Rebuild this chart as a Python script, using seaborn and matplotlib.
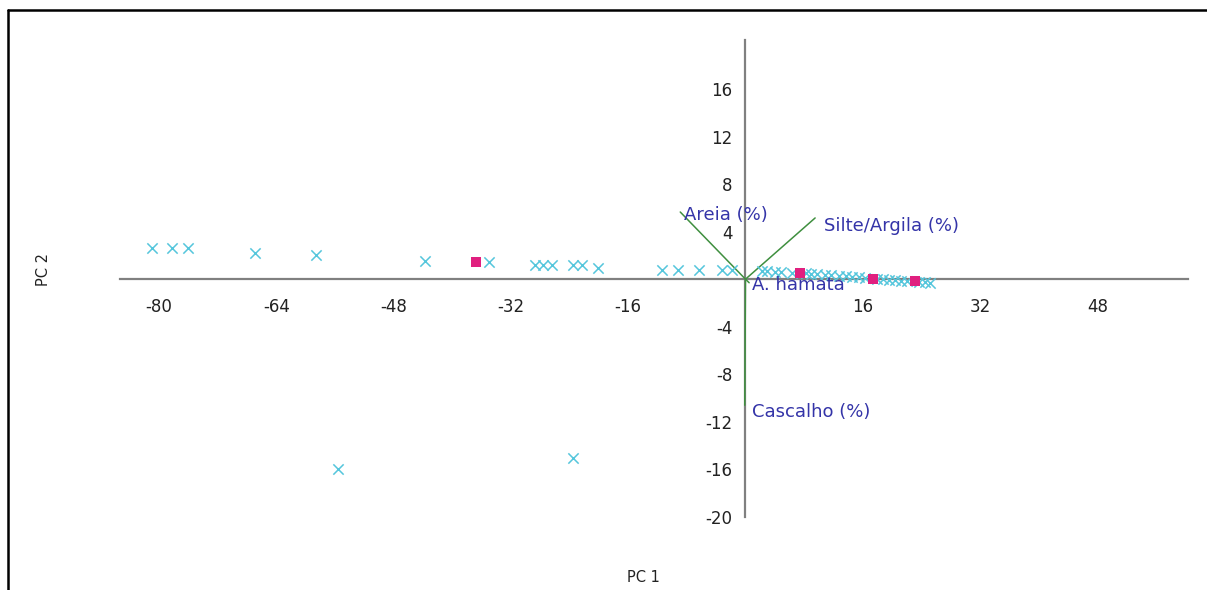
import numpy as np
import pandas as pd
import seaborn as sns
import matplotlib.pyplot as plt
from matplotlib.lines import Line2D

# PCA scores (PC 1, PC 2)
pc1_grupo1 = [-81.0, -78.3, -76.1, -66.9, -58.6, -43.7, -35.0,
              -28.7, -27.6, -26.4, -23.5, -22.3, -20.1,
              -11.4, -9.2, -6.3, -3.2, -1.8,
              -55.6, -23.5,
              2.2, 3.0, 4.0, 4.9, 6.4, 8.2, 9.0, 9.8, 10.8, 11.7, 12.8, 13.7,
              14.5, 15.5, 16.3, 17.9, 18.7, 19.6, 20.4, 21.2, 22.0, 23.7, 24.5, 25.2]
pc2_grupo1 = [2.6, 2.6, 2.6, 2.2, 2.0, 1.55, 1.45,
              1.2, 1.2, 1.2, 1.2, 1.2, 0.97,
              0.77, 0.77, 0.77, 0.77, 0.77,
              -16.0, -15.0,
              0.7, 0.7, 0.6, 0.6, 0.5, 0.5, 0.4, 0.4, 0.35, 0.35, 0.3, 0.3,
              0.2, 0.2, 0.1, 0.02, 0.02, -0.07, -0.07, -0.15, -0.15, -0.24, -0.24, -0.32]

pc1_grupo2 = [-36.8, 7.4, 17.4, 23.1]
pc2_grupo2 = [1.45, 0.52, 0.02, -0.19]

# vetores das variáveis
variaveis = ['Areia (%)', 'Silte/Argila (%)', 'Cascalho (%)', 'A. hamata']
vet_x = [-8.9, 9.5, -0.1, 0.5]
vet_y = [5.65, 5.15, -10.6, -0.3]
rot_x = [-8.4, 10.7, 0.9, 0.9]
rot_y = [5.4, 4.5, -11.2, -0.5]

xticks = [-80, -64, -48, -32, -16, 16, 32, 48]
yticks = [-20, -16, -12, -8, -4, 4, 8, 12, 16]

df1 = pd.DataFrame({'pc1': pc1_grupo1, 'pc2': pc2_grupo1})
df2 = pd.DataFrame({'pc1': pc1_grupo2, 'pc2': pc2_grupo2})

sns.set_theme(style='white')
plt.rcParams['font.family'] = ['DejaVu Sans']
plt.rcParams['axes.unicode_minus'] = False

fig = plt.figure(figsize=(12.07, 5.90), dpi=100)
ax = fig.add_axes([0, 0, 1, 1])
ax.patch.set_alpha(0)

sns.scatterplot(x='pc1', y='pc2', data=df1, marker='x', color='#55c6dc',
                s=55, linewidth=1.1, ax=ax, zorder=3)
sns.scatterplot(x='pc1', y='pc2', data=df2, marker='s', color='#e0207f',
                s=45, linewidth=0, ax=ax, zorder=4)

for vx, vy in zip(vet_x, vet_y):
    ax.plot([0, vx], [0, vy], color='#3f8f3f', lw=1.1, zorder=2)
for nome, tx, ty in zip(variaveis, rot_x, rot_y):
    ax.text(tx, ty, nome, color='#3434a8', fontsize=13, va='center', ha='left', zorder=5)

ax.set_xlim(-101.7, 62.96)
ax.set_ylim(-26.14, 23.48)

for lado in ['top', 'right']:
    ax.spines[lado].set_visible(False)
ax.spines['left'].set_position(('data', 0))
ax.spines['bottom'].set_position(('data', 0))
ax.spines['left'].set_bounds(-20, 20.1)
ax.spines['bottom'].set_bounds(-85.3, 60.4)
for lado in ['left', 'bottom']:
    ax.spines[lado].set_color('#808080')
    ax.spines[lado].set_linewidth(1.6)
    ax.spines[lado].set_zorder(1)

ax.set_xticks(xticks)
ax.set_yticks(yticks)
ax.set_xticklabels([str(v) for v in xticks])
ax.set_yticklabels([str(v) for v in yticks])
ax.tick_params(axis='both', which='major', direction='out', length=6.5, width=1.3,
               color='#808080', labelsize=12, labelcolor='#222222')
ax.tick_params(axis='x', pad=7)
ax.tick_params(axis='y', pad=3)
ax.set_xlabel('')
ax.set_ylabel('')

fig.text(643 / 1207, 1 - 578 / 590, 'PC 1', ha='center', va='center', fontsize=10.5, color='#222222')
fig.text(43 / 1207, 1 - 270 / 590, 'PC 2', ha='center', va='center', fontsize=10.5,
         color='#222222', rotation=90)

# moldura
fig.add_artist(Line2D([8 / 1207, 1], [1 - 10 / 590, 1 - 10 / 590], color='black', lw=1.8))
fig.add_artist(Line2D([8 / 1207, 8 / 1207], [0, 1 - 10 / 590], color='black', lw=1.8))

fig.savefig('out.png', dpi=100)
